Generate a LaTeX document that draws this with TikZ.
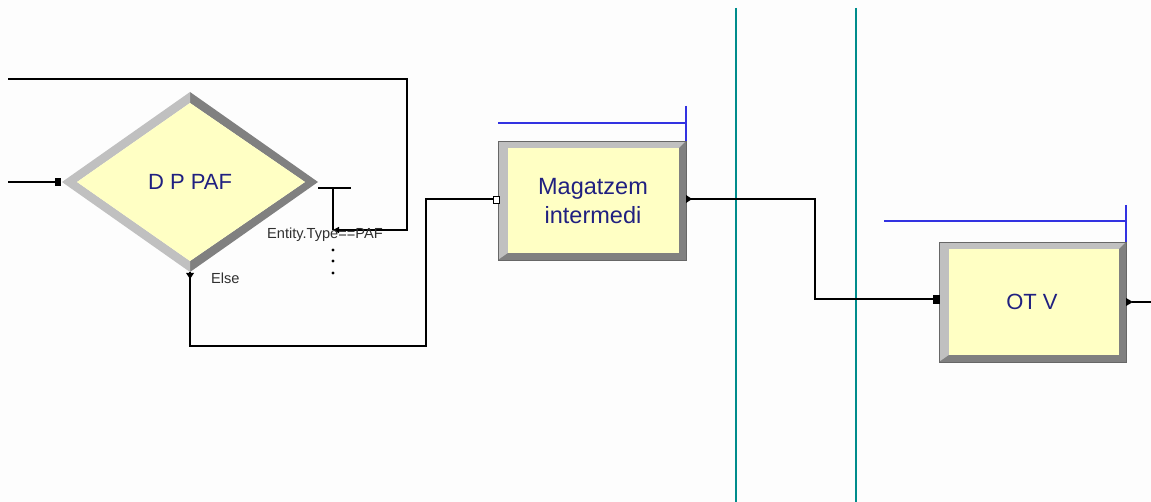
\documentclass[tikz,border=0pt]{standalone}
\usepackage{fontspec}
\setmainfont{Liberation Sans}
\usetikzlibrary{arrows.meta}
\definecolor{bg}{RGB}{253,253,253}
\definecolor{fillY}{RGB}{255,255,196}
\definecolor{bevL}{RGB}{192,192,192}
\definecolor{bevD}{RGB}{128,128,128}
\definecolor{navy}{RGB}{32,32,128}
\definecolor{lbl}{RGB}{48,48,48}
\definecolor{teal2}{RGB}{0,140,140}
\definecolor{qblue}{RGB}{50,50,225}
\tikzset{
  conn/.style={draw=black, line width=1.2pt},
  tip/.style={-{Triangle[length=6pt,width=6pt]}},
  title/.style={text=navy, font=\fontsize{22}{28}\selectfont, align=center, inner sep=0pt},
  small/.style={text=lbl, font=\fontsize{14.6}{16}\selectfont, inner sep=0pt},
  queue/.style={draw=qblue, line width=1.5pt},
  lane/.style={draw=teal2, line width=2pt},
  sq/.style={fill=black},
}
\begin{document}
\begin{tikzpicture}[x=1pt,y=-1pt]
\useasboundingbox[fill=bg] (0,0) rectangle (1151,502);
% swimlane lines
\coordinate (l1t) at (736,8); \coordinate (l1b) at (736,502);
\coordinate (l2t) at (856,8); \coordinate (l2b) at (856,502);
\draw[lane] (l1t) -- (l1b);
\draw[lane] (l2t) -- (l2b);
% diamond
\coordinate (dL) at (62,182); \coordinate (dT) at (190,92);
\coordinate (dR) at (318,182); \coordinate (dB) at (190,272);
\coordinate (iL) at (77,182); \coordinate (iT) at (190,103);
\coordinate (iR) at (305,182); \coordinate (iB) at (190,261);
\fill[bevD] (dT) -- (dR) -- (dB) -- (iB) -- (iR) -- (iT) -- cycle;
\fill[bevL] (dT) -- (dL) -- (dB) -- (iB) -- (iL) -- (iT) -- cycle;
\fill[fillY] (iL) -- (iT) -- (iR) -- (iB) -- cycle;
\node[title] (dpaf) at (190,182) {D P PAF};
% box Magatzem
\fill[bevL] (498,141) rectangle (686,260);
\fill[bevD] (686,141) -- (686,260) -- (498,260) -- (508,253) -- (679,253) -- (679,148) -- cycle;
\fill[fillY] (508,148) rectangle (679,253);
\draw[bevD!80!black, line width=0.4pt] (498,141) rectangle (686,260);
\node[title, font=\fontsize{23.5}{29}\selectfont] (mag) at (593,201) {Magatzem\\intermedi};
% box OT V
\fill[bevL] (939,242) rectangle (1126,362);
\fill[bevD] (1126,242) -- (1126,362) -- (939,362) -- (949,355) -- (1119,355) -- (1119,249) -- cycle;
\fill[fillY] (949,249) rectangle (1119,355);
\draw[bevD!80!black, line width=0.4pt] (939,242) rectangle (1126,362);
\node[title] (otv) at (1032,302) {OT V};
% queues
\coordinate (q1a) at (498,123); \coordinate (q1b) at (686,123);
\coordinate (q1t) at (686,106); \coordinate (q1d) at (686,141);
\draw[queue] (q1a) -- (q1b); \draw[queue] (q1t) -- (q1d);
\coordinate (q2a) at (884,221); \coordinate (q2b) at (1126,221);
\coordinate (q2t) at (1126,205); \coordinate (q2d) at (1126,242);
\draw[queue] (q2a) -- (q2b); \draw[queue] (q2t) -- (q2d);
% entry into diamond
\coordinate (in0) at (8,182); \coordinate (inD) at (55,182);
\draw[conn] (in0) -- (inD);
\fill[sq] (55,178) rectangle (61,186);
% top loop
\coordinate (lp0) at (8,79); \coordinate (lp1) at (407,79);
\coordinate (lp2) at (407,230); \coordinate (lpE) at (333,230);
\draw[conn,tip] (lp0) -- (lp1) -- (lp2) -- (lpE);
% true exit
\coordinate (tx0) at (318,188); \coordinate (tx1) at (351,188);
\coordinate (tx2) at (333,188);
\draw[conn] (tx0) -- (tx1);
\draw[conn] (tx2) -- (lpE);
\fill (333,250) circle (1.6); \fill (333,261) circle (1.6); \fill (333,273) circle (1.6);
\node[small, anchor=west] (cond) at (267,235) {Entity.Type==PAF};
\node[small, anchor=west] (else) at (211,278) {Else};
% else exit
\coordinate (e0) at (190,272); \coordinate (e1) at (190,346);
\coordinate (e2) at (426,346); \coordinate (e3) at (426,199);
\coordinate (e4) at (493,199);
\fill (186,273) -- (194,273) -- (190,279) -- cycle;
\draw[conn] (e0) -- (e1) -- (e2) -- (e3) -- (e4);
\draw[black, line width=0.8pt, fill=white] (493,196) rectangle (499,203);
% Magatzem exit
\coordinate (m0) at (691,199); \coordinate (m1) at (815,199);
\coordinate (m2) at (815,299); \coordinate (m3) at (933,299);
\fill (686,195) -- (692,199) -- (686,203) -- cycle;
\draw[conn] (m0) -- (m1) -- (m2) -- (m3);
\fill[sq] (933,295) rectangle (940,304);
% OT V exit
\coordinate (o0) at (1132,302); \coordinate (o1) at (1151,302);
\fill (1126,298) -- (1133,302) -- (1126,306) -- cycle;
\draw[conn] (o0) -- (o1);
\end{tikzpicture}
\end{document}
